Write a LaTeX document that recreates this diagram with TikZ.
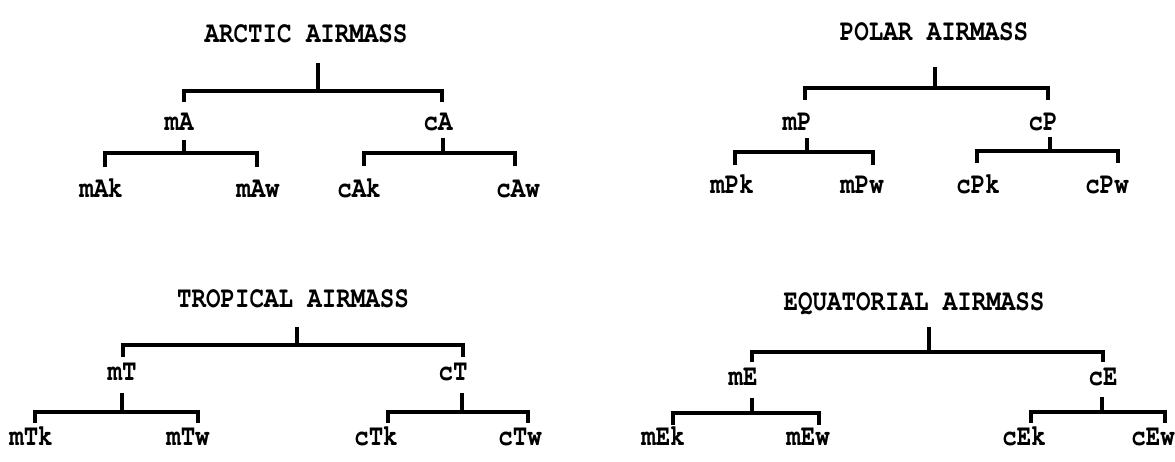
\documentclass[tikz,border=0pt]{standalone}
\usepackage{fontspec}
\newfontfamily\twregfam{texgyrecursor-bold.otf}[FakeStretch=0.805]
\newfontfamily\twboldfam{texgyrecursor-bold.otf}[FakeStretch=0.805]
\newcommand\twreg{\twregfam\fontsize{30}{31}\selectfont}
\newcommand\twbold{\twboldfam\fontsize{30}{31}\selectfont}
\tikzset{
  ttl/.style={font=\twreg, inner sep=0pt, anchor=base},
  ttlb/.style={font=\twbold, inner sep=0pt, anchor=base},
  lbl/.style={font=\twbold, inner sep=0pt, anchor=base},
  br/.style={line width=3.4pt, line join=miter, line cap=butt, black}
}
\newcommand\brkt[4]{%
  \draw[br] (#1) -- (#2);
  \draw[br] (#3) -- (#3 |- #2) -- (#4 |- #2) -- (#4);}
\begin{document}
\begin{tikzpicture}[x=1pt,y=-1pt]
\useasboundingbox[fill=white] (0,0) rectangle (1175,461);

% ---------------- ARCTIC ----------------
\node[ttl] (AT) at (306,42) {ARCTIC AIRMASS};
\node[lbl] (mA) at (179,130) {mA};
\node[lbl] (cA) at (438,130) {cA};
\node[lbl] (mAk) at (101,197) {mAk};
\node[lbl] (mAw) at (258,197) {mAw};
\node[lbl] (cAk) at (359,197) {cAk};
\node[lbl] (cAw) at (518,197) {cAw};
\coordinate (AS) at (318,63);  \coordinate (AJ) at (318,91);
\coordinate (AL) at (184,102); \coordinate (AR) at (442,102);
\brkt{AS}{AJ}{AL}{AR}
\coordinate (mAS) at (184,140); \coordinate (mAJ) at (184,153);
\coordinate (mAL) at (105,167); \coordinate (mAR) at (257,167);
\brkt{mAS}{mAJ}{mAL}{mAR}
\coordinate (cAS) at (443,138); \coordinate (cAJ) at (443,153);
\coordinate (cAL) at (364,166); \coordinate (cAR) at (515,166);
\brkt{cAS}{cAJ}{cAL}{cAR}

% ---------------- POLAR ----------------
\node[ttlb] (PT) at (934,40) {POLAR AIRMASS};
\node[lbl] (mP) at (797,130) {mP};
\node[lbl] (cP) at (1043,130) {cP};
\node[lbl] (mPk) at (732,193) {mPk};
\node[lbl] (mPw) at (862,193) {mPw};
\node[lbl] (cPk) at (978,193) {cPk};
\node[lbl] (cPw) at (1107,193) {cPw};
\coordinate (PS) at (935,67);  \coordinate (PJ) at (935,88);
\coordinate (PL) at (805,100); \coordinate (PR) at (1048,100);
\brkt{PS}{PJ}{PL}{PR}
\coordinate (mPS) at (807,138); \coordinate (mPJ) at (807,152);
\coordinate (mPL) at (735,165); \coordinate (mPR) at (873,165);
\brkt{mPS}{mPJ}{mPL}{mPR}
\coordinate (cPS) at (1050,137); \coordinate (cPJ) at (1050,151);
\coordinate (cPL) at (977,163);  \coordinate (cPR) at (1118,163);
\brkt{cPS}{cPJ}{cPL}{cPR}

% ---------------- TROPICAL ----------------
\node[ttl] (TT) at (293,307) {TROPICAL AIRMASS};
\node[lbl] (mT) at (122,380) {mT};
\node[lbl] (cT) at (453,380) {cT};
\node[lbl] (mTk) at (31,445) {mTk};
\node[lbl] (mTw) at (188,445) {mTw};
\node[lbl] (cTk) at (376,445) {cTk};
\node[lbl] (cTw) at (520,445) {cTw};
\coordinate (TS) at (297,327);  \coordinate (TJ) at (297,345);
\coordinate (TL) at (123,357);  \coordinate (TR) at (463,357);
\brkt{TS}{TJ}{TL}{TR}
\coordinate (mTS) at (122,393); \coordinate (mTJ) at (122,412);
\coordinate (mTL) at (35,423);  \coordinate (mTR) at (198,423);
\brkt{mTS}{mTJ}{mTL}{mTR}
\coordinate (cTS) at (462,393); \coordinate (cTJ) at (462,412);
\coordinate (cTL) at (388,423); \coordinate (cTR) at (528,423);
\brkt{cTS}{cTJ}{cTL}{cTR}

% ---------------- EQUATORIAL ----------------
\node[ttlb] (ET) at (914,310) {EQUATORIAL AIRMASS};
\node[lbl] (mE) at (743,385) {mE};
\node[lbl] (cE) at (1103,385) {cE};
\node[lbl] (mEk) at (663,445) {mEk};
\node[lbl] (mEw) at (808,445) {mEw};
\node[lbl] (cEk) at (1024,445) {cEk};
\node[lbl] (cEw) at (1153,445) {cEw};
\coordinate (ES) at (929,327);  \coordinate (EJ) at (929,352);
\coordinate (EL) at (752,362);  \coordinate (ER) at (1103,362);
\brkt{ES}{EJ}{EL}{ER}
\coordinate (mES) at (752,398); \coordinate (mEJ) at (752,413);
\coordinate (mEL) at (673,425); \coordinate (mER) at (819,425);
\brkt{mES}{mEJ}{mEL}{mER}
\coordinate (cES) at (1102,397); \coordinate (cEJ) at (1102,412);
\coordinate (cEL) at (1031,423); \coordinate (cER) at (1165,423);
\brkt{cES}{cEJ}{cEL}{cER}
\end{tikzpicture}
\end{document}
